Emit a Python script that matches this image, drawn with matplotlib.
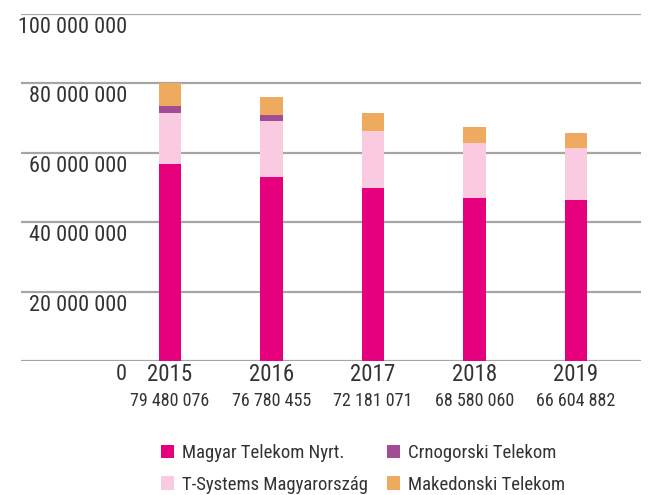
import numpy as np
import matplotlib
matplotlib.use('Agg')
import matplotlib.pyplot as plt

########  data (million units)  #########

YEARS = ['2015', '2016', '2017', '2018', '2019']
TOTALS = ['79 480 076', '76 780 455', '72 181 071', '68 580 060', '66 604 882']

magyar = [56.7, 53.0, 49.8, 46.9, 46.3]
tsystems = [14.7, 16.1, 16.4, 15.8, 15.0]
crnogorski = [2.0, 1.7, 0.0, 0.0, 0.0]
makedonski = [6.5, 5.2, 5.2, 4.6, 4.3]

SERIES = ['Magyar Telekom Nyrt.', 'T-Systems Magyarország',
          'Crnogorski Telekom', 'Makedonski Telekom']
COLORS = ['#E6007E', '#F9CAE0', '#A24C96', '#EEAA5E']

YTICKS = [0, 20e6, 40e6, 60e6, 80e6, 100e6]

####################################

plt.rcParams['font.family'] = ['Roboto Condensed', 'DejaVu Sans']
TXT = '#333333'
GRID = '#A5A5A5'

fig = plt.figure(figsize=(6.59, 4.95), dpi=100)
ax = fig.add_axes([21/659, 1 - 361/495, 620/659, (361 - 13.5)/495])

x = np.arange(len(YEARS))
width = 0.222
bottom = np.zeros(len(YEARS))
handles = {}
for name, vals, col in zip(SERIES, [magyar, tsystems, crnogorski, makedonski], COLORS):
    v = np.array(vals) * 1e6
    handles[name] = ax.bar(x, v, width, bottom=bottom, color=col,
                           linewidth=0, zorder=3, label=name)
    bottom += v

ax.set_xlim(-1.468, 4.64)
ax.set_ylim(0, 100e6)

# horizontal gridlines
ax.set_yticks(YTICKS)
ax.set_yticklabels([])
ax.grid(True, axis='y', color=GRID, linewidth=1.6, zorder=0)
ax.set_axisbelow(True)
ax.tick_params(axis='y', length=0)
for s in ax.spines.values():
    s.set_visible(False)

# y labels sit just under their gridline, inside the axes
for t in YTICKS:
    lab = f'{int(t):,}'.replace(',', ' ')
    ax.annotate(lab, xy=(106/620, t), xycoords=('axes fraction', 'data'),
                xytext=(0, -2.5), textcoords='offset points',
                ha='right', va='top', fontsize=16, color=TXT)

# x axis: years and totals
ax.set_xticks(x)
ax.set_xticklabels(YEARS, fontsize=16.5, color=TXT)
ax.tick_params(axis='x', length=0, pad=1.5)
for i, tot in enumerate(TOTALS):
    ax.annotate(tot, xy=(i, 0), xycoords='data',
                xytext=(0, -22), textcoords='offset points',
                ha='center', va='top', fontsize=13, color=TXT)

order = [SERIES[0], SERIES[1], SERIES[2], SERIES[3]]
fig.legend([handles[k] for k in order], order, ncol=2,
           loc='upper left', bbox_to_anchor=(161/659, 1 - 444/495),
           frameon=False, fontsize=13.5, labelcolor=TXT,
           handlelength=0.7, handleheight=0.7, handletextpad=0.4,
           columnspacing=1.05, labelspacing=0.72,
           borderpad=0, borderaxespad=0)

fig.savefig('out.png', dpi=100)
